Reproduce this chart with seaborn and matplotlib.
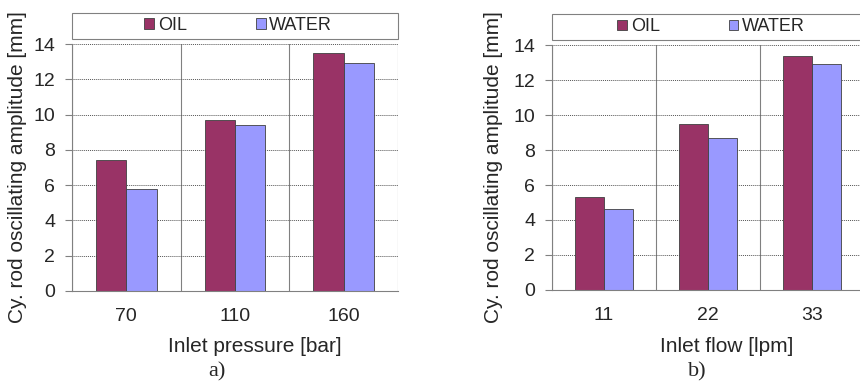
import matplotlib
matplotlib.use("Agg")
import matplotlib.pyplot as plt
from matplotlib.patches import Rectangle
import seaborn as sns
import pandas as pd

# values
fluids = ["OIL", "WATER"]
pressure_labels = ["70", "110", "160"]
pressure_oil = [7.4, 9.7, 13.5]
pressure_water = [5.8, 9.4, 12.9]
flow_labels = ["11", "22", "33"]
flow_oil = [5.3, 9.5, 13.4]
flow_water = [4.6, 8.7, 12.9]

palette = {"OIL": "#993366", "WATER": "#9999FF"}

sns.set_style("white")
plt.rcParams['font.family'] = ['Liberation Sans', 'DejaVu Sans']


def to_long(labels, oil, water):
    return pd.DataFrame({
        "cat": labels * 2,
        "fluid": ["OIL"] * len(labels) + ["WATER"] * len(labels),
        "value": oil + water,
    })


def draw_panel(ax, df, labels, xlabel, tag, xl_pos, yl_x, tag_pos):
    sns.barplot(data=df, x="cat", y="value", hue="fluid", order=labels,
                hue_order=fluids, palette=palette, saturation=1, width=0.56,
                edgecolor="#404040", linewidth=0.6, ax=ax, legend=False)
    ax.set_ylim(0, 14)
    ax.set_xlim(-0.5, len(labels) - 0.5)
    ax.set_yticks(range(0, 15, 2))
    ax.yaxis.grid(True, linestyle=(0, (1, 1)), color="#555555", linewidth=0.7)
    ax.set_xticks([i - 0.5 for i in range(len(labels) + 1)], minor=True)
    ax.xaxis.grid(True, which="minor", color="#808080", linewidth=0.8)
    ax.tick_params(axis="x", which="major", length=0, labelsize=14, pad=12)
    ax.tick_params(axis="x", which="minor", length=6, color="#808080", direction="out")
    ax.tick_params(axis="y", length=5, color="#808080", labelsize=14, pad=7, left=True)
    ax.set_axisbelow(True)
    for side in ["top", "right"]:
        ax.spines[side].set_visible(False)
    for side in ["left", "bottom"]:
        ax.spines[side].set_color("#808080")
        ax.spines[side].set_linewidth(0.8)
    ax.set_xlabel(xlabel, fontsize=15, va="center")
    ax.xaxis.set_label_coords(*xl_pos)
    ax.set_ylabel("Cy. rod oscillating amplitude [mm]", fontsize=15, va="center")
    ax.yaxis.set_label_coords(yl_x, 0.5)

    # legend strip above the plot area
    ax.add_patch(Rectangle((0, 1.022), 1, 0.104, transform=ax.transAxes,
                           facecolor="white", edgecolor="#808080", linewidth=0.8,
                           clip_on=False))
    handles = [Rectangle((0, 0), 1, 1, facecolor=palette[f], edgecolor="#404040",
                         linewidth=0.6) for f in fluids]
    ax.legend(handles, fluids, loc="center", bbox_to_anchor=(0.51, 1.074), ncol=2,
              frameon=False, fontsize=13, handlelength=0.55, handleheight=0.55,
              handletextpad=0.2, columnspacing=3.8, borderaxespad=0)
    ax.text(tag_pos[0], tag_pos[1], tag, transform=ax.transAxes, ha="center",
            va="center", fontsize=16, family=["Liberation Serif", "DejaVu Serif"])


fig = plt.figure(figsize=(8.6, 3.84), dpi=100)
ax1 = fig.add_axes([0.0837, 0.2422, 0.3791, 0.6432])
ax2 = fig.add_axes([0.6419, 0.2448, 0.3628, 0.6380])

draw_panel(ax1, to_long(pressure_labels, pressure_oil, pressure_water),
           pressure_labels, "Inlet pressure [bar]", "a)",
           (0.56, -0.223), -0.166, (0.445, -0.328))
draw_panel(ax2, to_long(flow_labels, flow_oil, flow_water),
           flow_labels, "Inlet flow [lpm]", "b)",
           (0.561, -0.229), -0.189, (0.465, -0.335))

fig.savefig("out.png", dpi=100)
